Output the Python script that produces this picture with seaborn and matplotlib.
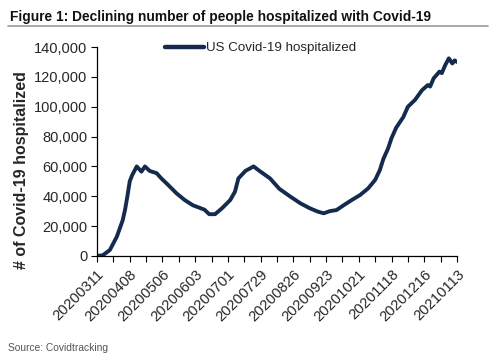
import matplotlib
matplotlib.use("Agg")
import matplotlib.pyplot as plt
import seaborn as sns
import pandas as pd
import numpy as np
from matplotlib.ticker import FuncFormatter, MultipleLocator

dates = ["20200311", "20200316", "20200322", "20200328", "20200402", "20200404",
         "20200406", "20200408", "20200410", "20200412", "20200414", "20200418",
         "20200421", "20200425",
         "20200501", "20200505", "20200511", "20200518", "20200525", "20200601",
         "20200611", "20200615", "20200620", "20200626", "20200703", "20200707",
         "20200710", "20200716", "20200723", "20200728", "20200806", "20200814",
         "20200823", "20200901", "20200909", "20200916", "20200921", "20200926",
         "20201002", "20201008", "20201015", "20201022", "20201029", "20201104",
         "20201108", "20201111", "20201115", "20201118", "20201122", "20201128",
         "20201202", "20201208", "20201214", "20201219", "20201221", "20201224",
         "20201229", "20201231", "20210103", "20210106", "20210109", "20210111",
         "20210113"]
hospitalized = [0, 500, 4000, 13000, 24000, 31000,
                40000, 50000, 54000, 57000, 60000, 56500,
                60000, 57000,
                55500, 52000, 47500, 42000, 37500, 34000,
                31000, 28000, 28000, 32000, 37500, 43000,
                52000, 57000, 60000, 57000, 52000, 45000,
                40000, 35300, 32000, 29700, 28600, 30000,
                30800, 34000, 37500, 40800, 45300, 51000,
                57600, 65000, 72000, 79000, 86000, 93000,
                100000, 104500, 111000, 114500, 113500, 119000,
                123500, 122500, 128000, 132400, 129000, 131000,
                130000]
tick_labels = ["20200311", "20200408", "20200506", "20200603", "20200701", "20200729",
               "20200826", "20200923", "20201021", "20201118", "20201216", "20210113"]
series_name = "US Covid-19 hospitalized"

start = pd.Timestamp("2020-03-11")
df = pd.DataFrame({
    "day": [(pd.Timestamp(d) - start).days for d in dates],
    "value": hospitalized,
    "series": series_name,
})
tick_days = [(pd.Timestamp(d) - start).days for d in tick_labels]

sns.set_style("white")
plt.rcParams["font.family"] = ["Liberation Sans", "DejaVu Sans"]

fig = plt.figure(figsize=(5.0, 3.63), dpi=100)
ax = fig.add_axes([0.194, 0.2948, 0.72, 0.5757])

navy = "#142b4e"
sns.lineplot(data=df, x="day", y="value", hue="series", palette=[navy],
             linewidth=2.8, ax=ax)

ax.set_xlim(0, tick_days[-1])
ax.set_ylim(0, 140000)
ax.yaxis.set_major_locator(MultipleLocator(20000))
ax.yaxis.set_major_formatter(FuncFormatter(lambda v, p: f"{int(v):,}"))
ax.set_xticks(tick_days)
ax.set_xticklabels(tick_labels, rotation=45, ha="right", rotation_mode="anchor",
                   fontsize=10.6)
ax.xaxis.set_minor_locator(MultipleLocator(14))
ax.tick_params(axis="y", labelsize=10.5, length=4, width=0.8, direction="out",
               left=True, color="black", pad=3)
ax.tick_params(axis="x", which="both", length=4, width=0.8, direction="out",
               bottom=True, color="black", pad=4)
for s in ["top", "right"]:
    ax.spines[s].set_visible(False)
for s in ["left", "bottom"]:
    ax.spines[s].set_color("black")
    ax.spines[s].set_linewidth(0.9)

ax.set_xlabel("")
ax.set_ylabel("# of Covid-19 hospitalized", fontsize=11.5, fontweight="bold",
              labelpad=4)
ax.yaxis.set_label_coords(-0.19, 0.41)

leg = ax.legend(loc="upper left", bbox_to_anchor=(0.174, 1.05), frameon=False,
                fontsize=9.6, handlelength=2.9, handletextpad=0.15,
                borderaxespad=0)
for h in leg.legend_handles:
    h.set_linewidth(3.2)

fig.text(0.02, 0.952, "Figure 1: Declining number of people hospitalized with Covid-19",
         fontsize=9.9, fontweight="bold",
         va="center", ha="left", color="#111111")
fig.add_artist(plt.Line2D([0.016, 0.976], [0.927, 0.927], color="#999999", linewidth=1.2))
fig.text(0.016, 0.04, "Source: Covidtracking", fontsize=7.4, color="#555555",
         va="center", ha="left")

fig.savefig("out.png", dpi=100)
